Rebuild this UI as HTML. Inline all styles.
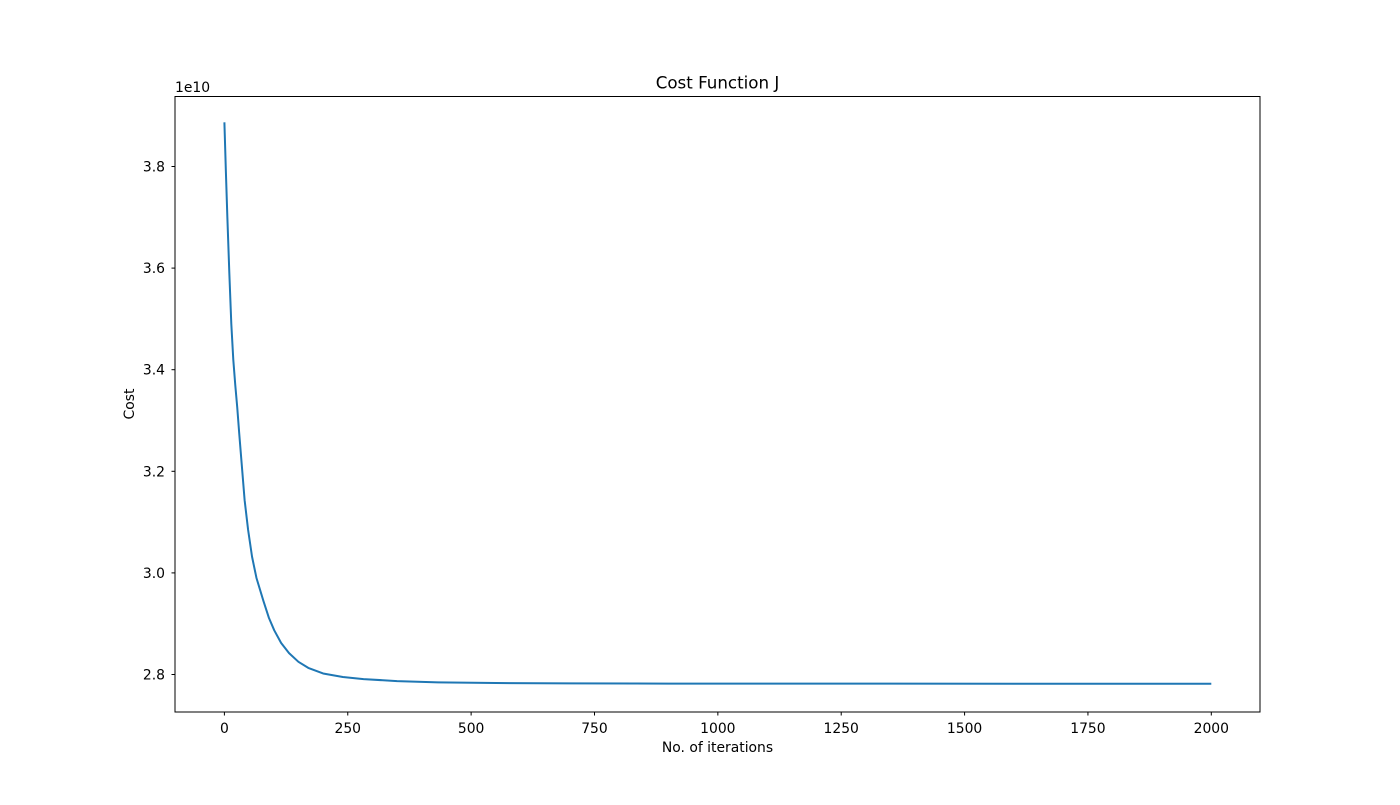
<!DOCTYPE html>
<html><head><meta charset="utf-8"><style>
body{margin:0;background:#fff;}
svg text{font-family:"DejaVu Sans","Liberation Sans",sans-serif;fill:#000;}
</style></head><body>
<svg width="1400" height="800" xmlns="http://www.w3.org/2000/svg">
<rect width="1400" height="800" fill="#fff"/>
<g id="plot"></g>
<rect x="175" y="96.5" width="1085" height="615.5" fill="none" stroke="#000" stroke-width="1"/>
<text x="717.5" y="88.5" font-size="16.7" text-anchor="middle">Cost Function J</text>
<text x="717.5" y="752" font-size="13.9" text-anchor="middle">No. of iterations</text>
<text x="134" y="404" font-size="13.9" text-anchor="middle" transform="rotate(-90 134 404)">Cost</text>
<text x="175" y="92" font-size="13.9">1e10</text>
<g id="xt"></g><g id="yt"></g>
</svg>
<script>
const iters=[0,3,6,10,14,18,22,26,30,35,41,48,56,65,79,90,101,115,131,150,170,200,240,282,350,433,550,700,900,1200,1600,2000];
const cost=[3.887,3.79,3.70,3.59,3.49,3.42,3.37,3.326,3.275,3.215,3.143,3.085,3.032,2.99,2.945,2.912,2.887,2.862,2.842,2.825,2.813,2.802,2.795,2.791,2.787,2.7845,2.7832,2.7825,2.7821,2.782,2.7819,2.7819];
const xTicks=[0,250,500,750,1000,1250,1500,1750,2000];
const yTicks=[2.8,3.0,3.2,3.4,3.6,3.8];
const yTickLabels=["2.8","3.0","3.2","3.4","3.6","3.8"];
const NS="http://www.w3.org/2000/svg";
function xs(v){return 224.4+v*(1211.3-224.4)/2000;}
function ys(v){return 674.5-(v-2.8)*508;}
let d=iters.map((n,i)=>(i?'L':'M')+xs(n).toFixed(2)+' '+ys(cost[i]).toFixed(2)).join(' ');
const p=document.createElementNS(NS,'path');
p.setAttribute('d',d);p.setAttribute('fill','none');p.setAttribute('stroke','#1f77b4');p.setAttribute('stroke-width','2');p.setAttribute('stroke-linejoin','round');


document.getElementById('plot').appendChild(p);
const xt=document.getElementById('xt');
xTicks.forEach(v=>{
 const l=document.createElementNS(NS,'line');
 l.setAttribute('x1',xs(v));l.setAttribute('x2',xs(v));l.setAttribute('y1',712);l.setAttribute('y2',715.5);l.setAttribute('stroke','#000');
 
 
 xt.appendChild(l);
 const t=document.createElementNS(NS,'text');
 t.setAttribute('x',xs(v));t.setAttribute('y',733);t.setAttribute('font-size','13.9');t.setAttribute('text-anchor','middle');
 t.textContent=String(v);
 
 
 xt.appendChild(t);
});
const yt=document.getElementById('yt');
yTicks.forEach((v,i)=>{
 const l=document.createElementNS(NS,'line');
 l.setAttribute('x1',171.5);l.setAttribute('x2',175);l.setAttribute('y1',ys(v));l.setAttribute('y2',ys(v));l.setAttribute('stroke','#000');
 
 
 yt.appendChild(l);
 const t=document.createElementNS(NS,'text');
 t.setAttribute('x',165);t.setAttribute('y',ys(v)+5);t.setAttribute('font-size','13.9');t.setAttribute('text-anchor','end');
 t.textContent=yTickLabels[i];
 
 
 yt.appendChild(t);
});
</script>
</body></html>
